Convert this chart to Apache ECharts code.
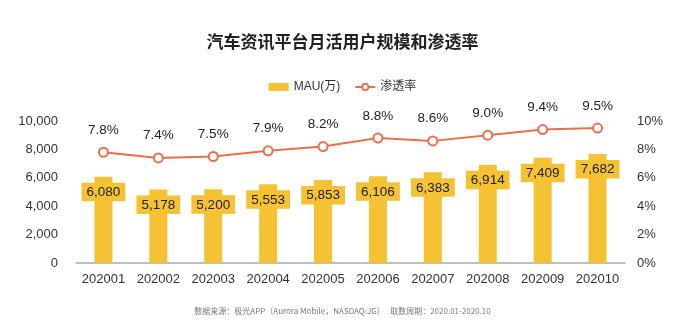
<!DOCTYPE html>
<html><head><meta charset="utf-8">
<script src="https://cdn.jsdelivr.net/npm/echarts@6/dist/echarts.min.js"></script>
<style>html,body{margin:0;padding:0;background:#fff}#c{width:685px;height:330px}</style>
</head><body><div id="c"></div>
<script>
const categories = ['202001','202002','202003','202004','202005','202006','202007','202008','202009','202010'];
const mau = [6080,5178,5200,5553,5853,6106,6383,6914,7409,7682];
const penetration = [7.8,7.4,7.5,7.9,8.2,8.8,8.6,9.0,9.4,9.5];
const leftTicks = [0,2000,4000,6000,8000,10000];
const rightTicks = [0,2,4,6,8,10];
const font = '"Liberation Sans", "Noto Sans CJK SC", sans-serif';
const cjk = '"Noto Sans CJK SC", sans-serif';
const chart = echarts.init(document.getElementById('c'));
chart.setOption({
  animation:false,
  textStyle:{fontFamily:font},
  title:[{text:'汽车资讯平台月活用户规模和渗透率',left:'center',top:28,textStyle:{fontSize:17,fontWeight:'bold',color:'#222',fontFamily:cjk}},
    {text:'数据来源：极光APP（Aurora Mobile，NASDAQ:JG）   取数周期：2020.01-2020.10',left:'center',top:302,textStyle:{fontSize:8,fontWeight:'normal',color:'#777',fontFamily:cjk}}],
  legend:{top:76,left:'center',itemGap:14,textStyle:{fontSize:12,color:'#333',fontFamily:font},
    data:[{name:'MAU(万)',icon:'rect'},{name:'渗透率'}],itemWidth:20,itemHeight:8},
  grid:{left:76,right:60,top:121,bottom:67},
  xAxis:{type:'category',data:categories,axisTick:{show:false},axisLine:{lineStyle:{color:'#aaa',width:1.5}},
    axisLabel:{color:'#333',fontSize:13,margin:10,interval:0}},
  yAxis:[{type:'value',min:0,max:10000,interval:2000,splitLine:{show:false},axisLine:{show:false},axisTick:{show:false},
      axisLabel:{color:'#333',fontSize:13,margin:18,formatter:v=>v.toLocaleString('en-US')}},
    {type:'value',min:0,max:10,interval:2,splitLine:{show:false},axisLine:{show:false},axisTick:{show:false},
      axisLabel:{color:'#333',fontSize:13,margin:12,formatter:v=>v+'%'}}],
  series:[{name:'MAU(万)',type:'bar',data:mau,barWidth:18,itemStyle:{color:'#f4c232'},
      label:{show:true,position:'insideTop',distance:6,color:'#222',fontSize:13.5,backgroundColor:'#f4c232',padding:[3,5,2,5],
        formatter:p=>p.value.toLocaleString('en-US')}},
    {name:'渗透率',type:'line',yAxisIndex:1,data:penetration,symbol:'circle',symbolSize:9,
      lineStyle:{color:'#e8704f',width:2},itemStyle:{color:'#fff',borderColor:'#e8704f',borderWidth:2},
      label:{show:true,position:'top',distance:10,color:'#222',fontSize:13.5,formatter:p=>p.value.toFixed(1)+'%'}}]
});
</script></body></html>
